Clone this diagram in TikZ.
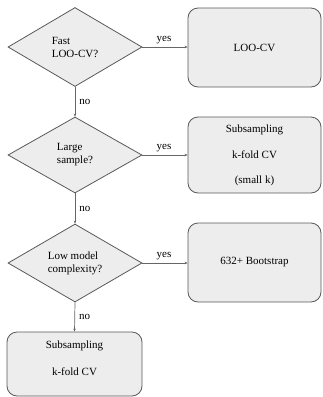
\documentclass[tikz,border=0pt]{standalone}
\usepackage{fontspec}
\setmainfont{Liberation Serif}
\usetikzlibrary{shapes.geometric,arrows.meta}
\begin{document}
\begin{tikzpicture}[x=1pt,y=-1pt,
  every node/.style={font=\fontsize{11}{13}\selectfont},
  decision/.style={diamond,draw=black!65,fill=black!7,line width=0.8pt,inner sep=0pt,
    minimum width=134pt,align=left},
  result/.style={rectangle,rounded corners=10pt,draw=black!65,fill=black!7,line width=0.8pt,
    minimum width=133pt,inner sep=0pt,align=center},
  conn/.style={draw=black!60,line width=0.7pt,-{Stealth[length=3pt,width=2.5pt]}},
  lbl/.style={inner sep=1pt}]
\useasboundingbox (0,0) rectangle (323,397);
\node[decision,minimum height=79pt] (d1) at (75,47) {Fast\\LOO-CV?};
\node[decision,minimum height=76pt] (d2) at (75,155) {Large\\sample?};
\node[decision,minimum height=78pt] (d3) at (75,263) {Low model\\complexity?};
\node[result,minimum height=79pt] (b1) at (254.5,47.5) {LOO-CV};
\node[result,minimum height=76pt] (b2) at (254.5,155) {Subsampling\\[13pt]k-fold CV\\[12pt](small k)};
\node[result,minimum height=79pt] (b3) at (254.5,262.5) {632+ Bootstrap};
\node[result,minimum width=135pt,minimum height=64pt] (b4) at (74.5,364) {};
\node[align=center] (b4t) at (74.5,358.5) {Subsampling\\[14pt]k-fold CV};
\draw[conn] (d1.east) -- node[lbl,above,yshift=1.5pt,xshift=-1pt] {yes} (d1.east -| b1.west);
\draw[conn] (d2.east) -- node[lbl,above,yshift=1.5pt,xshift=-1pt] {yes} (d2.east -| b2.west);
\draw[conn] (d3.east) -- node[lbl,above,yshift=1.5pt,xshift=-1pt] {yes} (d3.east -| b3.west);
\draw[conn] (d1.south) -- node[lbl,right,xshift=3pt] {no} (d2.north);
\draw[conn] (d2.south) -- node[lbl,right,xshift=3pt] {no} (d3.north);
\draw[conn] (d3.south) -- node[lbl,right,xshift=3pt] {no} (b4.north);
\end{tikzpicture}
\end{document}
